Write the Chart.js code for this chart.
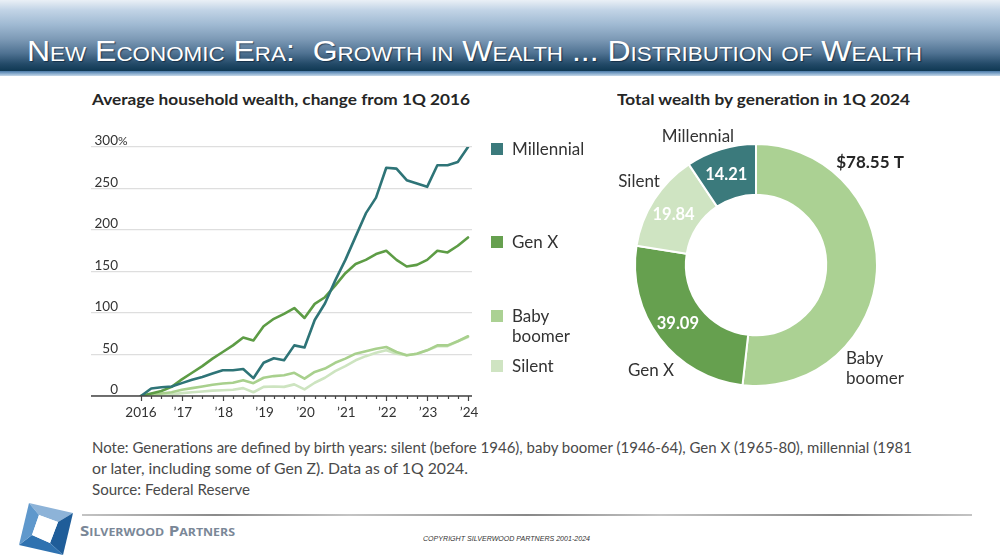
<!DOCTYPE html>
<html><head><meta charset="utf-8">
<script src="https://cdn.jsdelivr.net/npm/chart.js@4/dist/chart.umd.min.js"></script>
<style>
html,body{margin:0;padding:0;width:1000px;height:560px;overflow:hidden;background:#fff;font-family:Lato,'Open Sans',sans-serif;}
.abs{position:absolute;white-space:nowrap;}
#hdr{position:absolute;left:0;top:0;width:1000px;height:71px;background:linear-gradient(to bottom,#eaf0f6 0%,#c2d4e6 14%,#9fb9d2 35%,#7d9ab6 55%,#4f7292 75%,#234a68 90%,#0f3853 100%);}
#hdrline{position:absolute;left:0;top:71px;width:1000px;height:5px;background:linear-gradient(to bottom,#4a78a6 0%,#7ea4c8 45%,#c5d7e8 100%);}
#title{left:27px;top:36px;font-family:'Liberation Sans Narrow','Arial Narrow','Liberation Sans',Arial,sans-serif;font-size:30px;line-height:30px;font-variant:small-caps;color:#fff;text-shadow:1px 1px 1px rgba(0,20,40,0.55);transform-origin:0 0;}
.ctitle{font-weight:700;font-size:16px;line-height:16px;color:#262626;transform-origin:0 0;}
.leg{font-size:17px;line-height:20px;color:#333;}
.sq{position:absolute;width:12px;height:12px;}
.note{font-size:15px;line-height:15px;color:#4a4a4a;transform-origin:0 0;}
#foot{position:absolute;left:82px;top:514px;width:890px;height:2px;background:linear-gradient(to right,#c4c4c4 0%,#8a8a8a 15%,#c4c4c4 30%,#888 50%,#c4c4c4 65%,#888 85%,#c4c4c4 100%);}
#brand{left:80px;top:523px;font-family:'Open Sans','Liberation Sans',sans-serif;font-weight:700;font-size:15px;line-height:15px;font-variant:small-caps;color:#7a8797;transform-origin:0 0;}
#copy{left:423px;top:535px;font-family:'Liberation Sans',Arial,sans-serif;font-style:italic;font-size:7px;line-height:7px;color:#333;transform-origin:0 0;}
</style></head>
<body>
<div id="hdr"></div><div id="hdrline"></div>
<div id="title" class="abs" data-w="895">New Economic Era:&nbsp; Growth in Wealth ... Distribution of Wealth</div>

<div class="abs ctitle" style="left:92px;top:91px;" data-w="378">Average household wealth, change from 1Q 2016</div>
<div class="abs ctitle" style="left:617px;top:91px;" data-w="293">Total wealth by generation in 1Q 2024</div>

<canvas id="line" class="abs" style="left:80px;top:130px;" width="420" height="300"></canvas>
<canvas id="donut" class="abs" style="left:600px;top:120px;" width="320" height="290"></canvas>

<div id="legend"></div>

<div class="abs note" style="left:92px;top:440px;" data-w="820">Note: Generations are defined by birth years: silent (before 1946), baby boomer (1946-64), Gen X (1965-80), millennial (1981</div>
<div class="abs note" style="left:92px;top:461px;" data-w="376">or later, including some of Gen Z). Data as of 1Q 2024.</div>
<div class="abs note" style="left:92px;top:482px;" data-w="158">Source: Federal Reserve</div>

<div id="foot"></div>
<svg class="abs" style="left:0;top:498px;" width="80" height="62" viewBox="0 0 80 62">
  <polygon points="29,5 73,15 58,24 39,17" fill="#8db3d8"/>
  <polygon points="73,15 63,57 50,45 58,24" fill="#1f5d99"/>
  <polygon points="63,57 19,47 32,37 50,45" fill="#2f72b0"/>
  <polygon points="19,47 29,5 39,17 32,37" fill="#5f98cc"/>
  <polygon points="39,17 58,24 50,45 32,37" fill="#ffffff"/>
</svg>
<div id="brand" class="abs" data-w="155">Silverwood Partners</div>
<div id="copy" class="abs" data-w="167">COPYRIGHT SILVERWOOD PARTNERS 2001-2024</div>

<script>
// ---------- DATA ----------
const quarters = ['1Q16','2Q16','3Q16','4Q16','1Q17','2Q17','3Q17','4Q17','1Q18','2Q18','3Q18','4Q18',
  '1Q19','2Q19','3Q19','4Q19','1Q20','2Q20','3Q20','4Q20','1Q21','2Q21','3Q21','4Q21',
  '1Q22','2Q22','3Q22','4Q22','1Q23','2Q23','3Q23','4Q23','1Q24'];
const millennial = [0, 9, 10.5, 11.5, 15.5, 19.5, 23, 27, 31, 31, 32.5, 21.5, 40, 45.5, 43, 61, 58.5, 91.5, 111.5, 139, 164, 192, 220, 239, 275, 274, 260, 256, 252, 278, 278, 282, 300];
const genX       = [0, 3, 6, 11, 20, 28, 36, 45, 53, 61, 70.5, 67, 84, 93, 99, 106, 94, 111, 119, 133, 148, 159, 164, 171, 175, 164, 156, 158, 164, 175, 173, 181, 191];
const babyBoomer = [0, 1.5, 3, 4.5, 7.5, 9.5, 11.5, 13.5, 15, 16, 19, 15.5, 22, 24, 25, 28, 21, 29, 33, 40, 45, 51, 54, 57, 59, 53, 49, 51, 55, 61, 61, 66, 72];
const silent     = [0, 0.5, 1, 2, 3.5, 4.5, 5.5, 6.5, 7, 7.5, 9.5, 4.5, 11, 11.5, 11, 14, 8, 16, 22, 30, 36, 43, 48, 52, 55, 51, 49, 51, 55, 60, 60, 66, 71];
const seriesNames = ['Millennial', 'Gen X', 'Baby boomer', 'Silent'];
const yTickValues = [0, 50, 100, 150, 200, 250, 300];
const xTickLabels = ['2016', '\u201917', '\u201918', '\u201919', '\u201920', '\u201921', '\u201922', '\u201923', '\u201924'];

const donutCategories = ['Baby boomer', 'Gen X', 'Silent', 'Millennial'];
const donutValues = [78.55, 39.09, 19.84, 14.21];

// ---------- STYLE ----------
const lineColors = {'Millennial':'#2e7477','Gen X':'#5d9c45','Baby boomer':'#a8d08d','Silent':'#cde4c0'};
const swatchColors = {'Millennial':'#3b7a7c','Gen X':'#66a04f','Baby boomer':'#abd193','Silent':'#cfe4c2'};
const FONT = 'Lato, "Open Sans", sans-serif';

function fitAll(){
  document.querySelectorAll('[data-w]').forEach(el=>{
    const w = el.getBoundingClientRect().width;
    const t = +el.dataset.w;
    if (w>0) el.style.transform = 'scaleX(' + (t/w) + ')';
  });
}

// legend
const legendPos = {'Millennial':{y:143, lines:['Millennial']}, 'Gen X':{y:236, lines:['Gen X']},
  'Baby boomer':{y:310, lines:['Baby','boomer']}, 'Silent':{y:360, lines:['Silent']}};
const legEl = document.getElementById('legend');
seriesNames.forEach(n=>{
  const p = legendPos[n];
  const sq = document.createElement('div'); sq.className='sq';
  sq.style.left='491px'; sq.style.top=p.y+'px'; sq.style.background=swatchColors[n];
  legEl.appendChild(sq);
  const tx = document.createElement('div'); tx.className='abs leg';
  tx.style.left='512px'; tx.style.top=(p.y-4)+'px'; tx.innerHTML=p.lines.join('<br>');
  legEl.appendChild(tx);
});

// ---------- LINE CHART ----------
const wsjAxes = {
  id:'wsjAxes',
  afterDatasetsDraw(chart){
    const {ctx, scales:{x,y}, chartArea} = chart;
    ctx.save();
    const y0 = y.getPixelForValue(0);
    ctx.strokeStyle = '#444'; ctx.lineWidth = 1.5;
    ctx.beginPath(); ctx.moveTo(chartArea.left, y0); ctx.lineTo(chartArea.right, y0); ctx.stroke();
    ctx.lineWidth = 1.2;
    for (let i=0;i<quarters.length;i++){
      const px = Math.round(x.getPixelForValue(i))+0.5;
      const len = (i%4===0) ? 5 : 3;
      ctx.beginPath(); ctx.moveTo(px, y0); ctx.lineTo(px, y0+len); ctx.stroke();
    }
    ctx.fillStyle = '#333'; ctx.font = '13.5px ' + FONT; ctx.textAlign='center'; ctx.textBaseline='middle';
    xTickLabels.forEach((lab,k)=>{
      const px = x.getPixelForValue(k*4);
      ctx.fillText(lab, px + (k===0?0:1), y0+17);
    });
    ctx.textBaseline='alphabetic';
    yTickValues.forEach(v=>{
      const py = y.getPixelForValue(v);
      ctx.textAlign='right';
      ctx.fillText(String(v), chartArea.left+27, py-2);
      if (v===300){ ctx.textAlign='left'; ctx.font='12px ' + FONT; ctx.fillText('%', chartArea.left+27, py-2); ctx.font='13.5px ' + FONT; }
    });
    ctx.restore();
  }
};

const seriesData = {'Millennial':millennial,'Gen X':genX,'Baby boomer':babyBoomer,'Silent':silent};
new Chart(document.getElementById('line'), {
  type:'line',
  data:{
    labels: quarters,
    datasets: seriesNames.map(n=>({
      label:n,
      data: seriesData[n].map((v,i)=>({x:i,y:v})),
      borderColor: lineColors[n], borderWidth: 2.6, pointRadius:0, tension:0, fill:false,
      borderJoinStyle:'round', borderCapStyle:'round'
    }))
  },
  options:{
    responsive:false, animation:false, devicePixelRatio:1,
    layout:{padding:{left:11,right:28,top:17,bottom:34}},
    plugins:{legend:{display:false}, tooltip:{enabled:false}},
    scales:{
      x:{type:'linear', min:-4.89, max:32.39, grid:{display:false}, border:{display:false}, ticks:{display:false}, afterFit(s){s.height=0;}},
      y:{min:0, max:300, ticks:{display:false, stepSize:50}, grid:{color:'#dedede', lineWidth:1.2, drawTicks:false}, border:{display:false}, afterFit(s){s.width=0;}}
    }
  },
  plugins:[wsjAxes]
});

// ---------- DONUT ----------
const outerLabelPos = {
  'Millennial':{dx:-58, dy:-128, align:'center', lines:['Millennial']},
  'Silent':{dx:-117, dy:-83, align:'center', lines:['Silent']},
  'Gen X':{dx:-105, dy:106, align:'center', lines:['Gen X']},
  'Baby boomer':{dx:90, dy:94, align:'left', lines:['Baby','boomer']}
};
const donutLabels = {
  id:'donutLabels',
  afterDatasetsDraw(chart){
    const {ctx} = chart;
    const meta = chart.getDatasetMeta(0);
    const cx = meta.data[0].x, cy = meta.data[0].y;
    ctx.save();
    ctx.textBaseline='middle';
    meta.data.forEach((arc,i)=>{
      const cat = donutCategories[i];
      if (i===0){
        ctx.font = 'bold 17px ' + FONT; ctx.fillStyle='#262626'; ctx.textAlign='center';
        ctx.fillText('$' + donutValues[i].toFixed(2) + ' T', cx+114, cy-102);
      } else {
        const p = arc.getCenterPoint();
        ctx.font = 'bold 16.5px ' + FONT; ctx.fillStyle='#ffffff'; ctx.textAlign='center';
        ctx.fillText(donutValues[i].toFixed(2), p.x-2, p.y+1);
      }
      const o = outerLabelPos[cat];
      ctx.font = '17px ' + FONT; ctx.fillStyle='#333'; ctx.textAlign=o.align;
      o.lines.forEach((ln,k)=> ctx.fillText(ln, cx+o.dx, cy+o.dy+k*20));
    });
    ctx.restore();
  }
};
new Chart(document.getElementById('donut'), {
  type:'doughnut',
  data:{labels: donutCategories, datasets:[{data: donutValues,
    backgroundColor: donutCategories.map(c=>swatchColors[c]), borderColor:'#ffffff', borderWidth:2}]},
  options:{
    responsive:false, animation:false, devicePixelRatio:1, cutout:'58%',
    layout:{padding:{left:34,top:23,right:42,bottom:23}},
    plugins:{legend:{display:false}, tooltip:{enabled:false}}
  },
  plugins:[donutLabels]
});

fitAll();
</script>
</body></html>
